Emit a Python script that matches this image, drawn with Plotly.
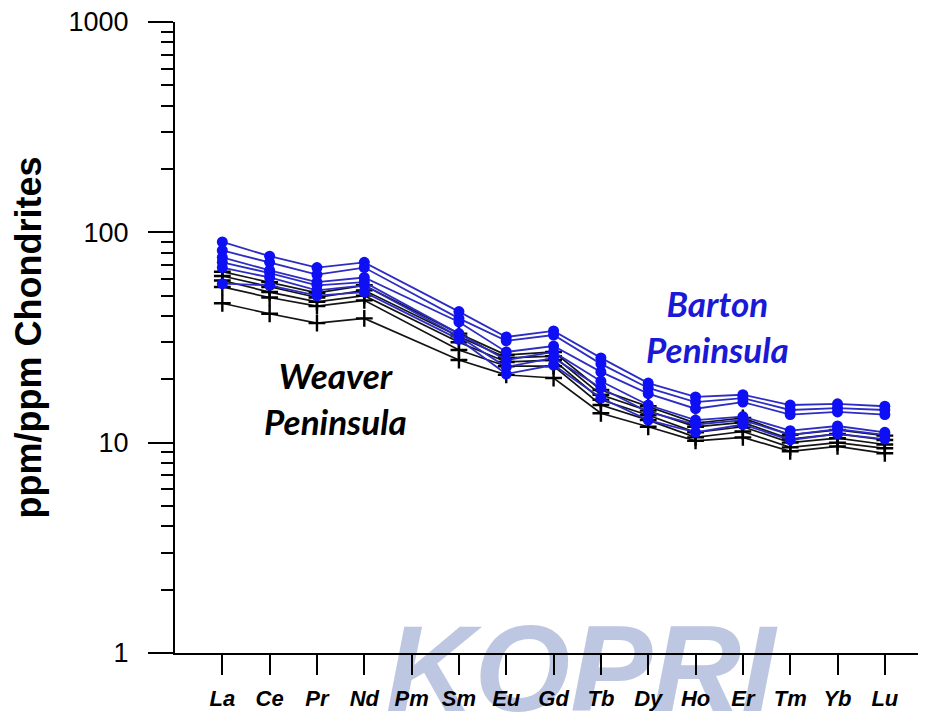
import plotly.graph_objects as go

elements = ["La", "Ce", "Pr", "Nd", "Pm", "Sm", "Eu", "Gd", "Tb", "Dy", "Ho", "Er", "Tm", "Yb", "Lu"]

# Barton Peninsula samples (chondrite-normalised); Pm not analysed
barton_1 = [90, 77, 68, 72, None, 42, 31.8, 34, 25.3, 19.2, 16.5, 16.9, 15.1, 15.3, 14.9]
barton_2 = [82, 72, 63, 68, None, 39, 30.5, 32.5, 23.7, 18.2, 15.6, 16.3, 14.3, 14.6, 14.3]
barton_3 = [76, 66, 58, 61, None, 37.5, 27, 28.8, 21.7, 17.1, 14.5, 15.6, 13.6, 14.0, 13.6]
barton_4 = [72, 64, 56, 58, None, 33, 24.7, 27, 19.6, 15.1, 12.8, 13.3, 11.4, 12.0, 11.2]
barton_5 = [68, 61, 53, 56, None, 32, 22.9, 25.3, 18.2, 14.0, 12.2, 12.8, 10.9, 11.6, 10.9]
barton_6 = [57, 56, 50, 52, None, 31, 21.2, 23.4, 16.3, 12.8, 11.2, 12.2, 10.3, 11.0, 10.4]

# Weaver Peninsula samples
weaver_1 = [65, 58, 51.5, 56, None, 33, 26.1, 27, 17.8, 14.9, 12.4, 13.1, 10.9, 11.5, 10.8]
weaver_2 = [62, 55, 49, 53, None, 32, 25.3, 25.8, 16.9, 14.2, 11.9, 12.5, 10.4, 11.0, 10.3]
weaver_3 = [59, 52, 46.7, 50, None, 30, 24.2, 24.7, 16.0, 13.5, 11.2, 11.9, 10.0, 10.5, 9.8]
weaver_4 = [55, 49, 44.6, 47.5, None, 27.6, 23.1, 23.1, 15.1, 12.8, 10.6, 11.3, 9.5, 10.0, 9.4]
weaver_5 = [46, 41, 37, 39, None, 24.7, 21, 20.3, 13.8, 11.9, 10.2, 10.6, 9.1, 9.6, 8.9]

y_ticks = [1, 10, 100, 1000]
y_minor = [m * d for d in (1, 10, 100) for m in range(2, 10)]

barton = [barton_1, barton_2, barton_3, barton_4, barton_5, barton_6]
weaver = [weaver_1, weaver_2, weaver_3, weaver_4, weaver_5]

fig = go.Figure()

for s in weaver:
    fig.add_trace(go.Scatter(
        x=elements, y=s, mode="lines+markers", connectgaps=True,
        line=dict(color="rgb(20,20,20)", width=1.7),
        marker=dict(symbol="cross-thin", size=12, line=dict(color="black", width=2.4)),
        showlegend=False, hoverinfo="skip"))

for s in barton:
    fig.add_trace(go.Scatter(
        x=elements, y=s, mode="lines+markers", connectgaps=True,
        line=dict(color="rgb(45,45,195)", width=1.8),
        marker=dict(symbol="circle", size=11, color="rgb(15,15,245)"),
        showlegend=False, hoverinfo="skip"))

# page body has an 8px margin, so the figure is sized 8px smaller
fig.update_layout(
    width=918, height=707,
    margin=dict(l=167, r=0, t=14, b=62),
    paper_bgcolor="white", plot_bgcolor="white",
    font=dict(family="Liberation Sans, Arial, sans-serif", color="black"),
    xaxis=dict(
        type="category", categoryorder="array", categoryarray=elements,
        range=[-1, 14.87], showgrid=False, zeroline=False, automargin=False,
        showline=True, linecolor="black", linewidth=2,
        ticks="outside", ticklen=20, tickwidth=2, tickcolor="black",
        ticklabelstandoff=5, ticklabeloverflow="allow",
        tickfont=dict(family="Liberation Sans Narrow, Arial Narrow, Liberation Sans, Arial",
                      size=22, color="black", weight="bold", style="italic"),
    ),
    yaxis=dict(
        type="log", range=[0, 3], showgrid=False, zeroline=False, automargin=False,
        showline=True, linecolor="black", linewidth=2,
        tickvals=y_ticks, ticktext=[str(v) for v in y_ticks],
        ticks="outside", ticklen=25, tickwidth=2, tickcolor="black",
        tickfont=dict(size=27, color="black"),
        ticklabelstandoff=14, ticklabeloverflow="allow",
        minor=dict(tickvals=y_minor, ticks="outside", ticklen=12, tickwidth=2, tickcolor="black"),
        title=dict(text="ppm/ppm Chondrites", standoff=16,
                   font=dict(size=36, weight="bold", color="black")),
    ),
)

# faint watermark of the source image, drawn beneath the axes and data
fig.add_shape(type="rect", xref="paper", yref="paper",
              x0=0.28, x1=0.80, y0=-0.105, y1=0.095,
              line=dict(width=0), fillcolor="rgba(0,0,0,0)", layer="below",
              label=dict(text="KOPRI", textposition="middle center",
                         font=dict(family="Liberation Sans, Arial", size=123,
                                   weight="bold", style="italic",
                                   color="rgb(190,199,225)")))

label_font = dict(family="Lato, Open Sans, sans-serif", size=35, weight="bold", style="italic")
fig.add_annotation(x=0.723, y=0.518, xref="paper", yref="paper", showarrow=False,
                   xanchor="center", yanchor="middle",
                   text="Barton<br>Peninsula", align="center",
                   font=dict(color="rgb(25,25,215)", **label_font))
fig.add_annotation(x=0.214, y=0.404, xref="paper", yref="paper", showarrow=False,
                   xanchor="center", yanchor="middle",
                   text="Weaver<br>Peninsula", align="center",
                   font=dict(color="black", **label_font))

fig.write_html("out.html")
